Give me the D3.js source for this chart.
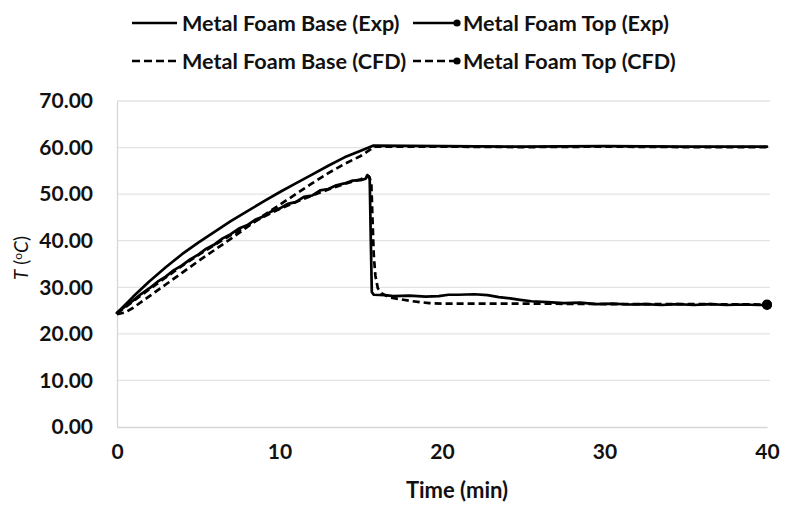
<!DOCTYPE html>
<html>
<head>
<meta charset="utf-8">
<script src="https://cdn.jsdelivr.net/npm/d3@7"></script>
<style>
  html, body { margin: 0; padding: 0; background: #fff; }
  svg { display: block; }
  text { font-family: Lato, "Open Sans", sans-serif; fill: #111; }
</style>
</head>
<body>
<svg id="chart" width="791" height="505"></svg>
<script>
// Temperature histories: time in minutes, temperature in °C
const baseExpTime = [0, 1, 2, 3, 4, 5, 6, 7, 8, 9, 10, 11, 12, 13, 14, 15, 15.75, 20, 25, 30, 35, 40];
const baseExpTemp = [24.5, 28.0, 31.3, 34.3, 37.1, 39.6, 41.9, 44.2, 46.3, 48.4, 50.4, 52.3, 54.2, 56.1, 57.9, 59.3, 60.4, 60.3, 60.2, 60.3, 60.2, 60.2];

const topExpTime = [0, 0.5, 1, 1.5, 2, 2.5, 3, 3.5, 4, 4.5, 5, 5.5, 6, 6.5, 7, 7.5, 8, 8.5, 9, 9.5, 10, 10.5, 11, 11.5, 12, 12.5, 13, 13.5, 14, 14.5, 15, 15.3, 15.4, 15.55, 15.62, 15.68, 15.8, 16.5, 17, 18, 19, 19.8, 20.4, 21, 22, 22.8, 23.5, 24.2, 24.8, 25.5, 26.5, 27.5, 28.5, 29.5, 30.5, 31.5, 32.5, 33.5, 34.5, 35.5, 36.5, 37.5, 38.5, 39.5, 40];
const topExpTemp = [24.5, 25.9, 27.2, 28.6, 29.8, 31.2, 32.3, 33.7, 34.7, 36.0, 37.0, 38.3, 39.2, 40.5, 41.4, 42.6, 43.3, 44.5, 45.2, 46.3, 46.9, 47.9, 48.3, 49.4, 49.7, 50.8, 51.1, 51.9, 52.3, 52.9, 53.0, 53.3, 54.1, 53.6, 40.0, 29.0, 28.4, 28.3, 28.1, 28.2, 28.0, 28.1, 28.4, 28.4, 28.5, 28.3, 27.9, 27.6, 27.3, 27.0, 26.8, 26.6, 26.7, 26.4, 26.5, 26.3, 26.4, 26.2, 26.4, 26.2, 26.4, 26.2, 26.3, 26.2, 26.2];

const baseCfdTime = [0, 0.5, 1, 2, 3, 4, 5, 6, 7, 8, 9, 10, 11, 12, 13, 14, 15, 15.6, 15.85, 20, 25, 30, 35, 40];
const baseCfdTemp = [24.2, 24.6, 25.6, 28.1, 30.6, 33.1, 35.6, 38.0, 40.4, 42.9, 45.4, 47.7, 50.0, 52.3, 54.5, 56.5, 58.2, 59.6, 60.2, 60.2, 60.1, 60.2, 60.1, 60.1];

const topCfdTime = [0, 1, 2, 3, 4, 5, 6, 7, 8, 9, 10, 11, 12, 13, 14, 15, 15.5, 15.65, 15.72, 15.8, 15.9, 16.05, 16.3, 16.7, 17.3, 18.2, 19.2, 20, 25, 30, 35, 40];
const topCfdTemp = [24.4, 27.0, 29.6, 32.1, 34.6, 36.9, 39.1, 41.2, 43.2, 45.1, 46.8, 48.3, 49.7, 51.0, 52.2, 53.2, 53.8, 52.5, 45.0, 37.0, 32.5, 29.8, 28.7, 27.9, 27.5, 27.0, 26.6, 26.5, 26.5, 26.4, 26.4, 26.3];

const xTicks = [0, 10, 20, 30, 40];
const yTicks = [0, 10, 20, 30, 40, 50, 60, 70];

const seriesNames = ["Metal Foam Base (Exp)", "Metal Foam Top (Exp)", "Metal Foam Base (CFD)", "Metal Foam Top (CFD)"];

const zip = (ts, vs) => ts.map((t, i) => ({ t, v: vs[i] }));
const series = [
  { name: seriesNames[0], data: zip(baseExpTime, baseExpTemp), dash: null, marker: false },
  { name: seriesNames[1], data: zip(topExpTime, topExpTemp), dash: null, marker: true },
  { name: seriesNames[2], data: zip(baseCfdTime, baseCfdTemp), dash: "7,4", marker: false },
  { name: seriesNames[3], data: zip(topCfdTime, topCfdTemp), dash: "7,4", marker: true }
];

const svg = d3.select("#chart");
const plot = { left: 117, right: 767, top: 101, bottom: 427 };

const x = d3.scaleLinear().domain([0, 40]).range([plot.left, plot.right]);
const y = d3.scaleLinear().domain([0, 70]).range([plot.bottom, plot.top]);

// horizontal gridlines
svg.append("g")
  .selectAll("line")
  .data(yTicks.filter(d => d > 0))
  .join("line")
  .attr("x1", plot.left).attr("x2", plot.right + 3)
  .attr("y1", d => y(d)).attr("y2", d => y(d))
  .attr("stroke", "#e3e3e3").attr("stroke-width", 1.3);

// y axis
const yAxis = svg.append("g")
  .attr("transform", `translate(${plot.left},0)`)
  .call(d3.axisLeft(y).tickValues(yTicks).tickFormat(d3.format(".2f")).tickSize(0).tickPadding(24));
yAxis.select(".domain").attr("stroke", "#d6d6d6").attr("stroke-width", 1.3);
yAxis.selectAll("text").attr("font-size", 21).attr("font-weight", 700).attr("fill", "#111")
  .style("font-family", "Lato, sans-serif");

// x axis
const xAxis = svg.append("g")
  .attr("transform", `translate(0,${plot.bottom})`)
  .call(d3.axisBottom(x).tickValues(xTicks).tickFormat(d3.format("d")).tickSize(0).tickPadding(17));
xAxis.select(".domain").attr("stroke", "#d6d6d6").attr("stroke-width", 1.3);
xAxis.selectAll("text").attr("font-size", 21).attr("font-weight", 700).attr("fill", "#111")
  .style("font-family", "Lato, sans-serif");

// axis titles
svg.append("text")
  .attr("x", 457).attr("y", 498)
  .attr("text-anchor", "middle")
  .attr("font-size", 22).attr("font-weight", 700)
  .text("Time (min)");

const yTitle = svg.append("text")
  .attr("transform", `translate(28,258) rotate(-90)`)
  .attr("text-anchor", "middle")
  .attr("font-size", 19);
yTitle.append("tspan").attr("font-style", "italic").text("T");
yTitle.append("tspan").text(" (");
yTitle.append("tspan").attr("font-size", 12).attr("dy", -6).text("o");
yTitle.append("tspan").attr("font-style", "italic").attr("dy", 6).text("C");
yTitle.append("tspan").text(")");

// temperature curves
const line = d3.line().x(d => x(d.t)).y(d => y(d.v));
const curves = svg.append("g");
series.forEach(s => {
  curves.append("path")
    .datum(s.data)
    .attr("fill", "none")
    .attr("stroke", "#000")
    .attr("stroke-width", 2.7)
    .attr("stroke-linejoin", "round")
    .attr("stroke-linecap", s.dash ? "butt" : "round")
    .attr("stroke-dasharray", s.dash)
    .attr("d", line);
  if (s.marker) {
    const last = s.data[s.data.length - 1];
    curves.append("circle")
      .attr("cx", x(last.t)).attr("cy", y(last.v)).attr("r", 5)
      .attr("fill", "#000");
  }
});

// legend: two rows, two entries each
const legendItems = [
  { s: series[0], lx: 132, ly: 23 },
  { s: series[1], lx: 413, ly: 23 },
  { s: series[2], lx: 132, ly: 61 },
  { s: series[3], lx: 413, ly: 61 }
];
const legend = svg.append("g");
legendItems.forEach(it => {
  const g = legend.append("g").attr("transform", `translate(${it.lx},${it.ly})`);
  const len = it.s.marker ? 44 : 45;
  g.append("line")
    .attr("x1", 0).attr("x2", len).attr("y1", 0).attr("y2", 0)
    .attr("stroke", "#000").attr("stroke-width", 2.7)
    .attr("stroke-dasharray", it.s.dash ? "8,4" : null);
  if (it.s.marker) {
    g.append("circle").attr("cx", len).attr("cy", 0).attr("r", 3.6).attr("fill", "#000");
  }
  g.append("text")
    .attr("x", 50).attr("y", 0).attr("dy", "0.35em")
    .attr("font-size", 21.6).attr("font-weight", 700)
    .text(it.s.name);
});
</script>
</body>
</html>
